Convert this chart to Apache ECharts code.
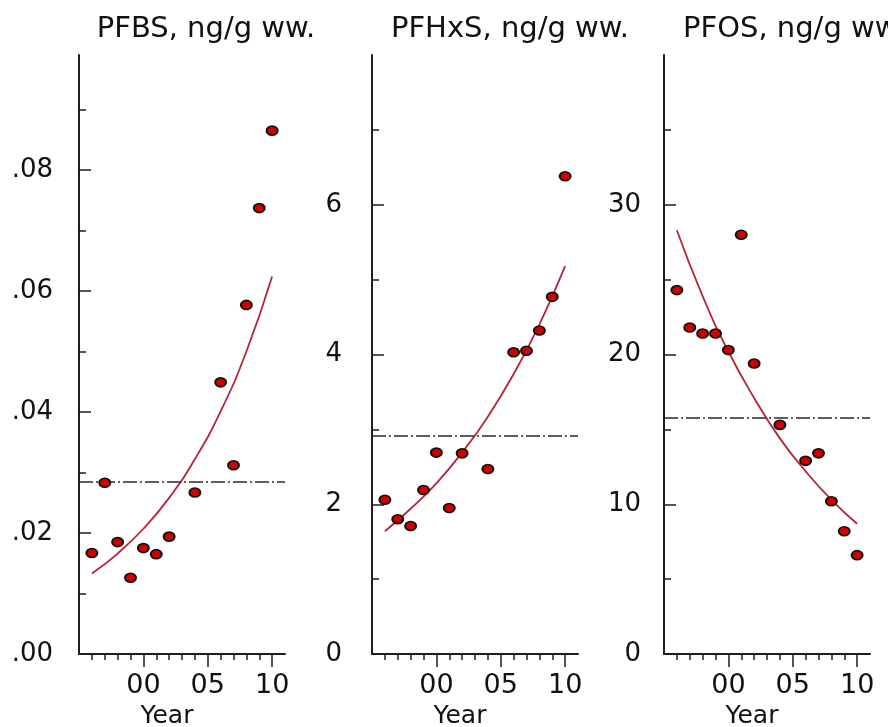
<!DOCTYPE html>
<html>
<head>
<meta charset="utf-8">
<script src="https://cdn.jsdelivr.net/npm/echarts@6/dist/echarts.min.js"></script>
<style>
  html, body { margin: 0; background: #fff; }
  #chart { width: 888px; height: 727px; }
</style>
</head>
<body>
<div id="chart"></div>
<script>
// sampling years (same for all three compounds)
const years = [1996, 1997, 1998, 1999, 2000, 2001, 2002, 2004, 2006, 2007, 2008, 2009, 2010];

// yearly values, ng/g ww
const pfbs = [0.0167, 0.0283, 0.0185, 0.0126, 0.0175, 0.0165, 0.0194, 0.0267, 0.0449, 0.0312, 0.0577, 0.0737, 0.0865];
const pfhxs = [2.06, 1.80, 1.71, 2.19, 2.69, 1.95, 2.68, 2.47, 4.03, 4.05, 4.32, 4.77, 6.38];
const pfos = [24.3, 21.8, 21.4, 21.4, 20.3, 28.0, 19.4, 15.3, 12.9, 13.4, 10.2, 8.2, 6.6];

// fitted trend
const trendYears = [1996, 1998, 2000, 2002, 2004, 2006, 2008, 2010];
const pfbsTrend = [0.0133, 0.0166, 0.0207, 0.0258, 0.0322, 0.0401, 0.0500, 0.0624];
const pfhxsTrend = [1.64, 1.94, 2.28, 2.69, 3.17, 3.74, 4.40, 5.18];
const pfosTrend = [28.3, 23.9, 20.2, 17.1, 14.4, 12.2, 10.3, 8.7];

// overall means (dash-dot line)
const pfbsMean = 0.0285;
const pfhxsMean = 2.91;
const pfosMean = 15.8;

// tick labels / tick positions
const yearTicks = [1996, 1997, 1998, 1999, 2000, 2001, 2002, 2003, 2004, 2005, 2006, 2007, 2008, 2009, 2010];
const yearLabels = [2000, 2005, 2010];
const pfbsLabels = [0, 0.02, 0.04, 0.06, 0.08];
const pfbsMinor = [0.01, 0.03, 0.05, 0.07, 0.09];
const pfhxsLabels = [0, 2, 4, 6];
const pfhxsMinor = [1, 3, 5, 7];
const pfosLabels = [0, 10, 20, 30];
const pfosMinor = [5, 15, 25, 35];

const FONT = '"DejaVu Sans", sans-serif';
const INK = '#1e1e1e';

const panels = [
  { title: 'PFBS, ng/g ww.', values: pfbs, trend: pfbsTrend, mean: pfbsMean, yMax: 0.099,
    labels: pfbsLabels, minor: pfbsMinor, fmt: v => v.toFixed(2).replace(/^0/, ''),
    left: 79, margin: 26, titleX: 206 },
  { title: 'PFHxS, ng/g ww.', values: pfhxs, trend: pfhxsTrend, mean: pfhxsMean, yMax: 8,
    labels: pfhxsLabels, minor: pfhxsMinor, fmt: v => String(v),
    left: 372, margin: 30, titleX: 510 },
  { title: 'PFOS, ng/g ww.', values: pfos, trend: pfosTrend, mean: pfosMean, yMax: 40,
    labels: pfosLabels, minor: pfosMinor, fmt: v => String(v),
    left: 664, margin: 23, titleX: 794 }
];

const grid = [], xAxis = [], yAxis = [], series = [], graphic = [];

panels.forEach((p, i) => {
  grid.push({ left: p.left, top: 55, width: 206, height: 599, outerBoundsMode: 'none', containLabel: false });

  // x axis: line, yearly short ticks and labels
  xAxis.push({
    gridIndex: i, type: 'value', min: 1995, max: 2011, position: 'bottom',
    axisLine: { show: true, lineStyle: { color: INK, width: 2 } },
    axisTick: { show: true, customValues: yearTicks, length: 6, lineStyle: { color: INK, width: 1.5 } },
    axisLabel: {
      customValues: yearLabels, margin: 18, fontSize: 27, color: '#111', fontFamily: FONT,
      formatter: v => String(v % 100).padStart(2, '0')
    },
    splitLine: { show: false },
    name: 'Year', nameLocation: 'middle', nameGap: 47,
    nameTextStyle: { fontSize: 25, color: '#111', fontFamily: FONT, padding: [0, 30, 0, 0] }
  });
  // x axis: long ticks every 5 years
  xAxis.push({
    gridIndex: i, type: 'value', min: 1995, max: 2011, position: 'bottom',
    axisLine: { show: false },
    axisTick: { show: true, customValues: yearLabels, length: 13, lineStyle: { color: INK, width: 1.5 } },
    axisLabel: { show: false },
    splitLine: { show: false }
  });

  // y axis: line, major inside ticks and labels
  yAxis.push({
    gridIndex: i, type: 'value', min: 0, max: p.yMax, position: 'left',
    axisLine: { show: true, lineStyle: { color: INK, width: 2 } },
    axisTick: { show: true, inside: true, customValues: p.labels.slice(1), length: 12, lineStyle: { color: INK, width: 1.5 } },
    axisLabel: { customValues: p.labels, formatter: p.fmt, margin: p.margin, fontSize: 26,
      color: '#111', fontFamily: FONT, padding: [7, 0, 0, 0] },
    splitLine: { show: false }
  });
  // y axis: minor inside ticks
  yAxis.push({
    gridIndex: i, type: 'value', min: 0, max: p.yMax, position: 'left',
    axisLine: { show: false },
    axisTick: { show: true, inside: true, customValues: p.minor, length: 7, lineStyle: { color: INK, width: 1.5 } },
    axisLabel: { show: false },
    splitLine: { show: false }
  });

  series.push({
    type: 'line', xAxisIndex: 2 * i, yAxisIndex: 2 * i,
    data: trendYears.map((y, j) => [y, p.trend[j]]),
    smooth: true, showSymbol: false, silent: true,
    lineStyle: { color: '#b3263a', width: 1.8 },
    markLine: {
      silent: true, symbol: 'none', precision: 6, label: { show: false },
      lineStyle: { color: '#2a2a2a', width: 1.5, type: [14, 3, 2, 3] },
      data: [{ yAxis: p.mean }]
    }
  });
  series.push({
    type: 'scatter', xAxisIndex: 2 * i, yAxisIndex: 2 * i,
    data: years.map((y, j) => [y, p.values[j]]),
    symbol: 'circle', symbolSize: [11, 9], z: 5,
    itemStyle: { color: '#d00000', borderColor: '#111', borderWidth: 1.8, opacity: 1 }
  });

  graphic.push({
    type: 'text', x: p.titleX, y: 29,
    style: { text: p.title, font: '29px ' + FONT, fill: '#111',
      align: 'center', verticalAlign: 'middle', textAlign: 'center', textVerticalAlign: 'middle' }
  });
});

const chart = echarts.init(document.getElementById('chart'));
chart.setOption({
  backgroundColor: '#fff',
  animation: false,
  grid, xAxis, yAxis, series, graphic
});
</script>
</body>
</html>
